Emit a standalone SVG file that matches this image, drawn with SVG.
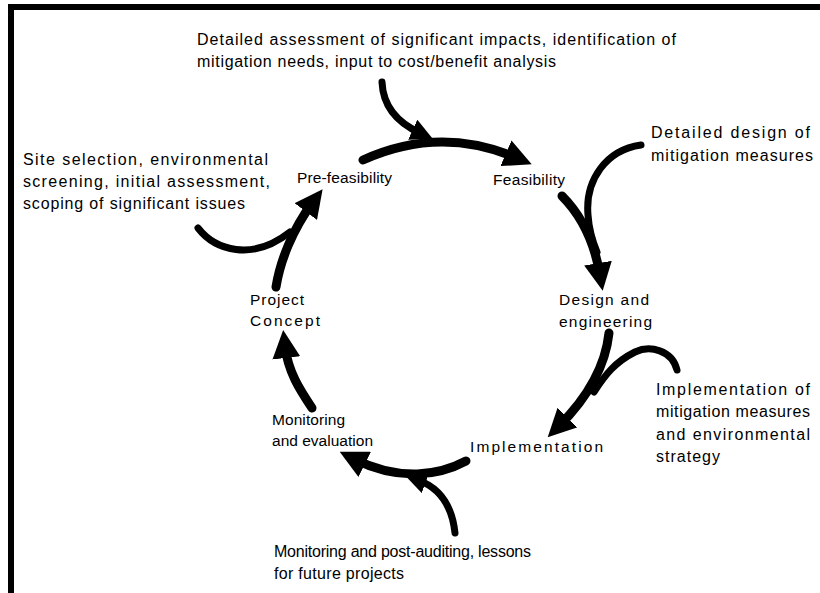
<svg xmlns="http://www.w3.org/2000/svg" width="820" height="593" viewBox="0 0 820 593">
  <style>
    .note { font-family: "Liberation Sans", Arial, sans-serif; font-size: 16px; fill: #000; }
    .stage { font-family: "Liberation Sans", Arial, sans-serif; font-size: 15.5px; fill: #000; }
    .cycle { fill: none; stroke: #000; stroke-width: 9; stroke-linecap: round; marker-end: url(#head); }
    .feed { fill: none; stroke: #000; stroke-width: 7; stroke-linecap: round; }
    .feed-head { marker-end: url(#head-small); }
  </style>
  <defs>
    <marker id="head" viewBox="0 0 28 28" refX="12" refY="14" markerWidth="28" markerHeight="28" markerUnits="userSpaceOnUse" orient="auto">
      <path d="M0,0 L28,14 L0,28 z" fill="#000"/>
    </marker>
    <marker id="head-small" viewBox="0 0 22 22" refX="8" refY="11" markerWidth="22" markerHeight="22" markerUnits="userSpaceOnUse" orient="auto">
      <path d="M0,0 L22,11 L0,22 z" fill="#000"/>
    </marker>
  </defs>

  <!-- frame -->
  <rect x="8" y="4" width="812" height="6" fill="#000"/>
  <rect x="8" y="4" width="6" height="589" fill="#000"/>

  <g id="connectors">
    <!-- feeder arrows from the notes -->
    <path class="feed feed-head" d="M382,82 C383,106 396,122 420,133"/>
    <path class="feed" d="M641,145 C606,150 585,180 588,215 C589,230 592,240 597,252"/>
    <path class="feed" d="M677,370 C672,350 650,345 635,352 C615,362 605,375 594,392"/>
    <path class="feed feed-head" d="M455,533 C452,505 440,488 418,480"/>
    <path class="feed" d="M198,228 C215,250 252,262 290,232"/>

    <!-- project cycle -->
    <path class="cycle" d="M363,160 Q440,125 517,158"/>
    <path class="cycle" d="M562,196 C580,214 594,240 600,275"/>
    <path class="cycle" d="M609,333 C605,370 585,400 559,426"/>
    <path class="cycle" d="M466,461 C440,475 400,482 354,459"/>
    <path class="cycle" d="M312,408 C300,390 288,372 285,346"/>
    <path class="cycle" d="M276,287 C280,262 292,230 313,202"/>
  </g>

  <g id="note-top">
    <text class="note" x="197" y="45" textLength="479">Detailed assessment of significant impacts, identification of</text>
    <text class="note" x="197" y="67" textLength="359">mitigation needs, input to cost/benefit analysis</text>
  </g>
  <g id="note-site">
    <text class="note" x="23" y="165" textLength="245">Site selection, environmental</text>
    <text class="note" x="23" y="187" textLength="247">screening, initial assessment,</text>
    <text class="note" x="23" y="209" textLength="222">scoping of significant issues</text>
  </g>
  <g id="note-design">
    <text class="note" x="651" y="138" textLength="159">Detailed design of</text>
    <text class="note" x="651" y="161" textLength="162">mitigation measures</text>
  </g>
  <g id="note-implementation">
    <text class="note" x="656" y="395" textLength="154">Implementation of</text>
    <text class="note" x="656" y="417" textLength="154">mitigation measures</text>
    <text class="note" x="656" y="440" textLength="154">and environmental</text>
    <text class="note" x="656" y="462" textLength="64">strategy</text>
  </g>
  <g id="note-monitoring">
    <text class="note" x="274" y="557" textLength="257">Monitoring and post-auditing, lessons</text>
    <text class="note" x="274" y="579" textLength="130">for future projects</text>
  </g>

  <g id="stage-prefeasibility">
    <text class="stage" x="297" y="183" textLength="95">Pre-feasibility</text>
  </g>
  <g id="stage-feasibility">
    <text class="stage" x="493" y="185" textLength="72">Feasibility</text>
  </g>
  <g id="stage-design">
    <text class="stage" x="559" y="305" textLength="90">Design and</text>
    <text class="stage" x="559" y="327" textLength="93">engineering</text>
  </g>
  <g id="stage-implementation">
    <text class="stage" x="470" y="452" textLength="133">Implementation</text>
  </g>
  <g id="stage-monitoring">
    <text class="stage" x="272" y="425" textLength="73">Monitoring</text>
    <text class="stage" x="272" y="446" textLength="101">and evaluation</text>
  </g>
  <g id="stage-concept">
    <text class="stage" x="250" y="305" textLength="54">Project</text>
    <text class="stage" x="250" y="326" textLength="70">Concept</text>
  </g>
</svg>
